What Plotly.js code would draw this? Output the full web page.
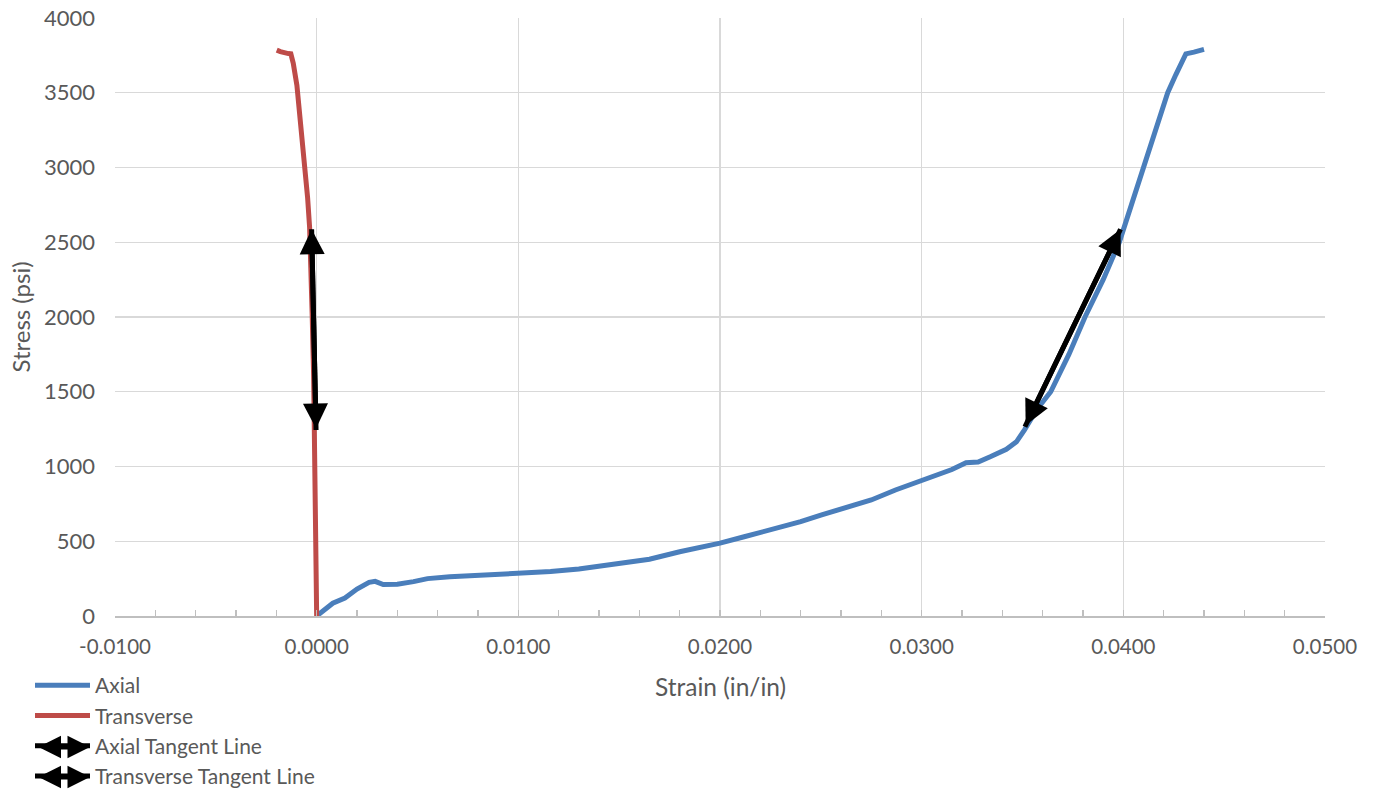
<!DOCTYPE html>
<html>
<head>
<meta charset="utf-8">
<script src="https://cdn.plot.ly/plotly-3.0.1.min.js"></script>
<style>html,body{margin:0;padding:0;background:#fff;}#chart{width:1375px;height:790px;}</style>
</head>
<body>
<div id="chart"></div>
<script>
const axialStrain = [0, 0.0004, 0.0008, 0.0014, 0.0020, 0.0026, 0.0029, 0.0033, 0.0040, 0.0048, 0.0055, 0.0066, 0.0080, 0.0091, 0.0100, 0.0116, 0.0130, 0.0140, 0.0153, 0.0165, 0.0180, 0.0190, 0.0200, 0.0212, 0.0225, 0.0240, 0.0250, 0.0262, 0.0275, 0.0287, 0.0299, 0.0306, 0.0315, 0.0322, 0.0328, 0.0334, 0.0342, 0.0347, 0.0351, 0.0357, 0.0364, 0.0373, 0.0381, 0.0390, 0.0398, 0.0404, 0.0410, 0.0416, 0.0422, 0.0426, 0.0431, 0.0435, 0.0440];
const axialStress = [0, 40, 85, 120, 180, 225, 232, 210, 212, 230, 250, 262, 270, 276, 285, 297, 315, 332, 352, 380, 430, 458, 487, 530, 575, 631, 675, 725, 776, 843, 900, 940, 980, 1025, 1030, 1065, 1115, 1165, 1245, 1380, 1500, 1750, 2000, 2250, 2500, 2750, 3000, 3250, 3500, 3620, 3760, 3772, 3790];

const transStrain = [0, -0.00002, -0.00003, -0.00005, -0.00008, -0.00015, -0.00022, -0.00030, -0.00035, -0.00045, -0.00058, -0.00070, -0.00083, -0.00098, -0.00116, -0.00128, -0.00140, -0.00157, -0.00180, -0.00198];
const transStress = [0, 300, 700, 1000, 1250, 1600, 2000, 2400, 2600, 2800, 3005, 3200, 3385, 3550, 3697, 3760, 3762, 3764, 3775, 3785];

const axialTangentStrain = [0.03512, 0.03986];
const axialTangentStress = [1266, 2587];
const transTangentStrain = [-0.00003, -0.00025];
const transTangentStress = [1244, 2587];

const xTickVals = [-0.01, 0, 0.01, 0.02, 0.03, 0.04, 0.05];
const xTickText = ['-0.0100', '0.0000', '0.0100', '0.0200', '0.0300', '0.0400', '0.0500'];

const names = ['Axial', 'Transverse', 'Axial Tangent Line', 'Transverse Tangent Line'];
const xTitle = 'Strain (in/in)';
const yTitle = 'Stress (psi)';

const FONT = 'Lato, "Open Sans", sans-serif';
const TXT = '#595959';

const traces = [
  {x: axialStrain, y: axialStress, name: names[0], mode: 'lines', line: {color: '#4a7ebb', width: 5}},
  {x: transStrain, y: transStress, name: names[1], mode: 'lines', line: {color: '#be4b48', width: 5}},
  {x: axialTangentStrain, y: axialTangentStress, name: names[2], mode: 'lines', line: {color: '#000000', width: 5}},
  {x: transTangentStrain, y: transTangentStress, name: names[3], mode: 'lines', line: {color: '#000000', width: 5}}
];

function dataArrow(xs, ys) {
  return {x: xs[1], y: ys[1], ax: xs[0], ay: ys[0], xref: 'x', yref: 'y', axref: 'x', ayref: 'y',
    text: '', showarrow: true, arrowside: 'end+start', arrowhead: 2, arrowsize: 1.0, arrowwidth: 5,
    arrowcolor: '#000000', standoff: 0, startstandoff: 0};
}

const plotTopPx = 18, plotBottomPx = 616, plotLeftPx = 115, plotRightPx = 1325;
const ph = plotBottomPx - plotTopPx, pw = plotRightPx - plotLeftPx;
function legendArrow(pxRight, pxY) {
  return {x: (pxRight - plotLeftPx) / pw, y: -(pxY - plotBottomPx) / ph, xref: 'paper', yref: 'paper',
    ax: -53, ay: 0, text: '', showarrow: true, arrowside: 'end+start', arrowhead: 2, arrowsize: 0.9,
    arrowwidth: 5, arrowcolor: '#000000', standoff: 0, startstandoff: 0};
}

const layout = {
  width: 1375, height: 790,
  margin: {l: 115, r: 50, t: 18, b: 174},
  paper_bgcolor: '#ffffff', plot_bgcolor: '#ffffff',
  font: {family: FONT, size: 20, color: TXT},
  showlegend: true,
  legend: {xref: 'paper', yref: 'container', x: (30 - plotLeftPx) / pw, y: 1 - 665 / 790, xanchor: 'left', yanchor: 'top',
    orientation: 'v', itemwidth: 55, font: {family: FONT, size: 21, color: TXT}, traceorder: 'normal',
    bgcolor: 'rgba(0,0,0,0)'},
  xaxis: {
    range: [-0.01, 0.05], tickvals: xTickVals, ticktext: xTickText, automargin: false,
    showgrid: true, gridcolor: '#d9d9d9', gridwidth: 1.3, zeroline: false,
    showline: true, linecolor: '#bfbfbf', linewidth: 1.8,
    ticks: 'inside', ticklen: 6, tickcolor: '#bfbfbf', tickwidth: 1.3,
    minor: {dtick: 0.002, ticks: 'inside', ticklen: 6, tickcolor: '#bfbfbf', tickwidth: 1.3, showgrid: false},
    tickfont: {family: FONT, size: 20.5, color: TXT}, ticklabelstandoff: 12
  },
  yaxis: {
    range: [0, 4000], dtick: 500, tickformat: 'd', automargin: false,
    showgrid: true, gridcolor: '#d9d9d9', gridwidth: 1.3, zeroline: false, showline: false,
    ticks: '', tickfont: {family: FONT, size: 22, color: TXT}, ticklabelstandoff: 19,
    title: {text: yTitle, font: {family: FONT, size: 24, color: TXT}, standoff: 6}
  },
  annotations: [
    dataArrow(axialTangentStrain, axialTangentStress),
    dataArrow(transTangentStrain, transTangentStress),
    legendArrow(90, 747),
    legendArrow(90, 777),
    {text: xTitle, xref: 'paper', yref: 'paper', x: 0.5, y: -(686 - plotBottomPx) / ph,
      xanchor: 'center', yanchor: 'middle', showarrow: false, font: {family: FONT, size: 24.5, color: TXT}}
  ]
};

Plotly.newPlot('chart', traces, layout, {displayModeBar: false, staticPlot: true});
</script>
</body>
</html>
